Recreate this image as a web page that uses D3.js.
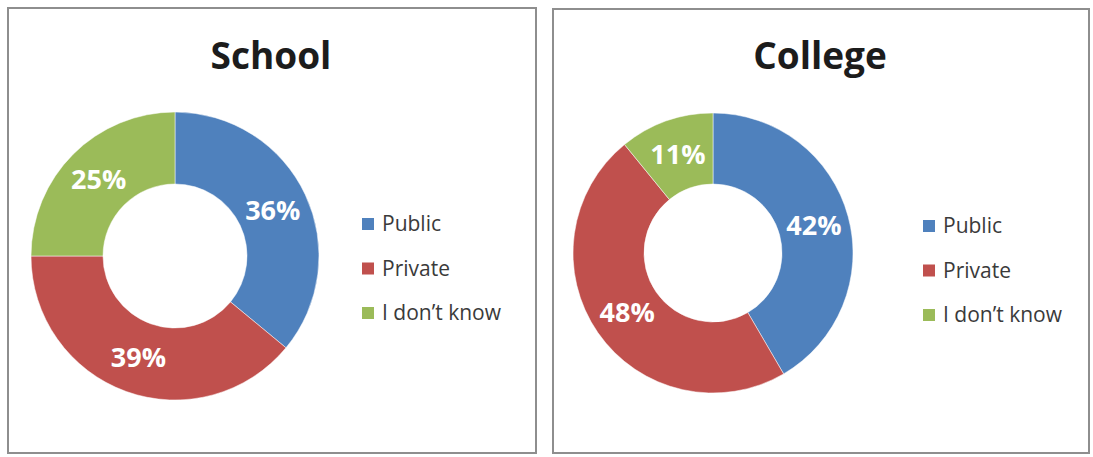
<!DOCTYPE html>
<html>
<head>
<meta charset="utf-8">
<script src="https://cdn.jsdelivr.net/npm/d3@7"></script>
<style>
  html, body { margin: 0; padding: 0; background: #ffffff; }
  svg { display: block; }
</style>
</head>
<body>
<svg id="chart" width="1093" height="457"></svg>
<script>
// Survey answers: share of respondents per type, for school and college
const categories = ["Public", "Private", "I don\u2019t know"];
const schoolValues = [36, 39, 25];
const collegeValues = [42, 48, 11];
const panelTitles = ["School", "College"];

const colors = d3.scaleOrdinal()
  .domain(categories)
  .range(["#4f81bd", "#c0504d", "#9bbb59"]);

const svg = d3.select("#chart");
const FONT = "'Open Sans', 'Noto Sans', sans-serif";

// Frame, title, donut and legend placement for each panel
const panels = [
  { title: panelTitles[0], values: schoolValues,
    frame: { x: 8, y: 8, w: 528, h: 445 }, titleX: 271,
    cx: 175, cy: 256, outer: 144, inner: 72,
    legendX: 362, legendY: 231 },
  { title: panelTitles[1], values: collegeValues,
    frame: { x: 553, y: 9, w: 536, h: 444 }, titleX: 820,
    cx: 713, cy: 253, outer: 140, inner: 69,
    legendX: 923, legendY: 233 }
];

const pie = d3.pie().sort(null).value(d => d.value);

panels.forEach(p => {
  const g = svg.append("g");

  g.append("rect")
    .attr("x", p.frame.x).attr("y", p.frame.y)
    .attr("width", p.frame.w).attr("height", p.frame.h)
    .attr("fill", "#ffffff")
    .attr("stroke", "#8e8e8e")
    .attr("stroke-width", 2);

  g.append("text")
    .attr("x", p.titleX).attr("y", 69)
    .attr("text-anchor", "middle")
    .attr("font-family", FONT)
    .attr("font-weight", 700)
    .attr("font-size", 37)
    .attr("fill", "#1c1c1c")
    .text(p.title);

  const data = categories.map((c, i) => ({ category: c, value: p.values[i] }));
  const arcs = pie(data);
  const arc = d3.arc().innerRadius(p.inner).outerRadius(p.outer);

  const donut = g.append("g").attr("transform", `translate(${p.cx},${p.cy})`);

  donut.selectAll("path")
    .data(arcs)
    .join("path")
    .attr("d", arc)
    .attr("fill", d => colors(d.data.category))
    .attr("stroke", "#ffffff")
    .attr("stroke-width", 0.5);

  donut.selectAll("text")
    .data(arcs)
    .join("text")
    .attr("transform", d => `translate(${arc.centroid(d)})`)
    .attr("text-anchor", "middle")
    .attr("dy", "0.36em")
    .attr("font-family", FONT)
    .attr("font-weight", 700)
    .attr("font-size", 27)
    .attr("fill", "#ffffff")
    .text(d => d.data.value + "%");

  const legend = g.append("g").attr("transform", `translate(${p.legendX},${p.legendY})`);
  const rows = legend.selectAll("g")
    .data(categories)
    .join("g")
    .attr("transform", (d, i) => `translate(0,${i * 44.5})`);

  rows.append("rect")
    .attr("x", 0).attr("y", -13)
    .attr("width", 12).attr("height", 12)
    .attr("fill", d => colors(d));

  rows.append("text")
    .attr("x", 20).attr("y", 0)
    .attr("font-family", FONT)
    .attr("font-size", 21)
    .attr("fill", "#3a3a3a")
    .text(d => d);
});
</script>
</body>
</html>
